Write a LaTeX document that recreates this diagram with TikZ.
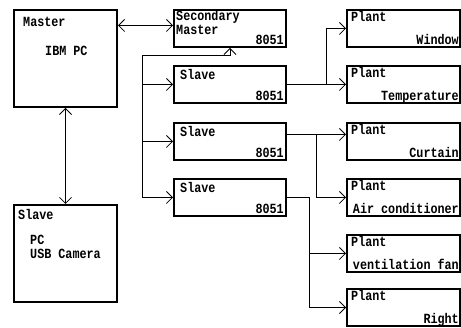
\documentclass[tikz,border=0pt]{standalone}
\usepackage{fontspec}
\newfontfamily\dotfont[FakeStretch=0.84]{Liberation Mono}
\usetikzlibrary{arrows.meta}

\begin{document}
\begin{tikzpicture}[x=1pt, y=-1pt, >={Straight Barb[length=6pt,width=12pt]},
  box/.style = {draw, line width=2pt, anchor=north west, inner sep=0pt},
  pcbox/.style = {box, minimum width=103pt, minimum height=97pt},
  mcu/.style = {box, minimum width=112pt, minimum height=37pt},
  plant/.style = {box, minimum width=113pt, minimum height=37pt},
  txt/.style = {font=\dotfont\bfseries\fontsize{14}{14}\selectfont, inner sep=0pt, align=left},
  link/.style = {line width=0.8pt}]
\useasboundingbox (0,0) rectangle (461,328);
% boxes
\node[pcbox] (master) at (13,9) {};
\node[pcbox] (cam) at (13,204) {};
\node[mcu] (sec) at (173,9) {};
\node[mcu] (s1) at (173,65) {};
\node[mcu] (s2) at (173,122) {};
\node[mcu] (s3) at (173,178) {};
\node[plant] (p1) at (346,9) {};
\node[plant] (p2) at (346,65) {};
\node[plant] (p3) at (346,122) {};
\node[plant] (p4) at (346,178) {};
\node[plant] (p5) at (346,234) {};
\node[plant] (p6) at (346,288) {};
% texts
\node[txt, anchor=north west] (master-t) at ([shift={(10,8)}]master.north west) {Master};
\node[txt, anchor=north west] (master-b) at ([shift={(32,37)}]master.north west) {IBM PC};
\node[txt, anchor=north west] (cam-t) at ([shift={(5,5)}]cam.north west) {Slave};
\node[txt, anchor=north west] (cam-b) at ([shift={(17,31)}]cam.north west) {PC\\USB Camera};
\node[txt, anchor=north west] (sec-t) at ([shift={(3,1)}]sec.north west) {Secondary\\Master};
\node[txt, anchor=base east] (sec-b) at ([shift={(-3,-3)}]sec.south east) {8051};
\foreach \s in {s1,s2,s3} {
  \node[txt, anchor=north west] (\s-t) at ([shift={(7,4)}]\s.north west) {Slave};
  \node[txt, anchor=base east] (\s-b) at ([shift={(-3,-3)}]\s.south east) {8051};
}
\foreach \p/\w in {p1/Window,p2/Temperature,p3/Curtain,p4/Air conditioner,p5/ventilation fan,p6/Right} {
  \node[txt, anchor=north west] (\p-t) at ([shift={(5,2)}]\p.north west) {Plant};
  \node[txt, anchor=base east] (\p-b) at ([shift={(-2,-3)}]\p.south east) {\w};
}
% connectors
\coordinate (bus) at (142,55);
\coordinate (j1) at (326,0);
\coordinate (j2) at (316,0);
\coordinate (j3) at (309,0);
\draw[link, <->] ([yshift=3pt]master.east |- sec.west) -- ([yshift=3pt]sec.west);
\draw[link, <->] (master) -- (cam);
\draw[link, ->] (s3.west -| bus) -- (bus) -| (sec.south);
\draw[link, ->] (s1.west -| bus) -- (s1.west);
\draw[link, ->] (s2.west -| bus) -- (s2.west);
\draw[link, ->] (s3.west -| bus) -- (s3.west);
\draw[link, ->] (s1.east) -- (p2.west);
\draw[link, ->] (s1.east -| j1) |- (p1.west);
\draw[link, ->] ([yshift=7pt]s2.east) -- ([yshift=7pt]p3.west);
\draw[link, ->] ([yshift=7pt]s2.east -| j2) |- (p4.west);
\draw[link] (s3.east) -- (s3.east -| j3);
\draw[link, ->] (s3.east -| j3) |- (p5.west);
\draw[link, ->] (s3.east -| j3) |- (p6.west);
\end{tikzpicture}
\end{document}
